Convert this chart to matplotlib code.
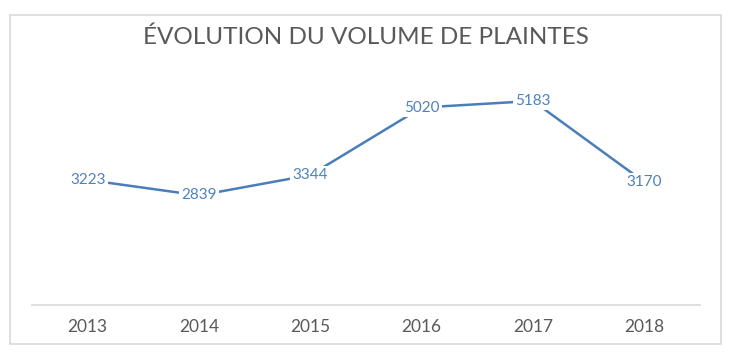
import matplotlib
matplotlib.use("Agg")
import matplotlib.pyplot as plt
from matplotlib.patches import Rectangle

years = ["2013", "2014", "2015", "2016", "2017", "2018"]
plaintes = [3223, 2839, 3344, 5020, 5183, 3170]

W, H = 730, 357
fig = plt.figure(figsize=(W / 100, H / 100), dpi=100)
fig.patch.set_facecolor("white")

# outer chart frame
fig.add_artist(Rectangle((10 / W, 1 - 344 / H), 711 / W, 329 / H,
                         transform=fig.transFigure, fill=False,
                         ec="#d9d9d9", lw=1.2))

ax = fig.add_axes([32 / W, 1 - 305 / H, 668 / W, 241 / H])
x = list(range(len(years)))
ax.plot(x, plaintes, color="#4a7ebb", lw=1.8, solid_capstyle="butt")
for xi, v in zip(x, plaintes):
    ax.text(xi, v, str(v), ha="center", va="center", fontsize=11,
            family="Lato", color="#4f81bd",
            bbox=dict(boxstyle="square,pad=0.15", fc="white", ec="none"))

ax.set_xlim(-0.5, len(years) - 0.5)
ax.set_ylim(120, 6100)
ax.set_yticks([])
ax.set_xticks(x)
ax.set_xticklabels(years, fontsize=12.5, family="Lato", color="#595959")
ax.tick_params(axis="x", length=0, pad=10)
for s in ["top", "left", "right"]:
    ax.spines[s].set_visible(False)
ax.spines["bottom"].set_color("#d9d9d9")
ax.spines["bottom"].set_linewidth(1.2)

fig.text(366 / W, 1 - 37 / H, "ÉVOLUTION DU VOLUME DE PLAINTES",
         ha="center", va="center", fontsize=17.5, family="Lato",
         color="#595959")

fig.savefig("out.png", dpi=100)
